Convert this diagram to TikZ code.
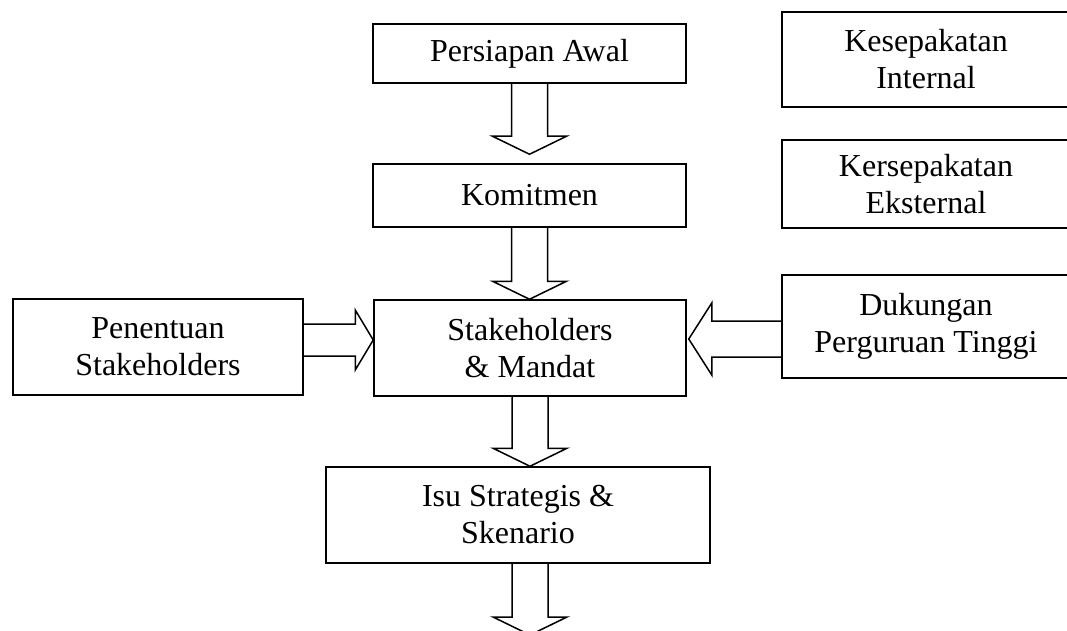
\documentclass[tikz,border=0pt]{standalone}
\usepackage{fontspec}
\setmainfont{Liberation Serif}
\usetikzlibrary{calc}
\tikzset{
  box/.style={draw, line width=1.5pt, rectangle, inner sep=0pt, align=center,
    font=\fontsize{32}{37}\selectfont},
  blk/.style={draw, line width=1.5pt, line join=miter}
}
\begin{document}
\begin{tikzpicture}[x=1pt,y=-1pt]
\useasboundingbox (0,0) rectangle (1067,631);
\clip (0,0) rectangle (1067,631);
% nodes
\node[box, minimum width=313pt, minimum height=59pt] (pa) at (529.5,53.5) {Persiapan Awal};
\node[box, minimum width=313pt, minimum height=63pt] (km) at (529.5,195.5) {Komitmen};
\node[box, minimum width=312pt, minimum height=96pt] (sm) at (530,348) {Stakeholders\\\& Mandat};
\node[box, minimum width=384pt, minimum height=96pt] (isu) at (518,515) {Isu Strategis \&\\Skenario};
\node[box, minimum width=290pt, minimum height=96pt] (pen) at (158,347) {Penentuan\\Stakeholders};
\node[box, minimum width=288pt, minimum height=103pt] (duk) at (926,326.5) {Dukungan\\Perguruan Tinggi};
\node[box, minimum width=288pt, minimum height=95pt] (kes) at (926,59.5) {Kesepakatan\\Internal};
\node[box, minimum width=288pt, minimum height=88pt] (ker) at (926,184) {Kersepakatan\\Eksternal};
% tips
\coordinate (t1) at ($(pa.south |- km.north)+(0,-9)$);
\coordinate (t2) at (km.south |- sm.north);
\coordinate (t3) at (sm.south |- isu.north);
\coordinate (t4) at (530,635);
\coordinate (ltip) at ($(sm.west)+(0,-8)$);
\coordinate (rtip) at ($(sm.east)+(2,-9)$);
% down arrows
\draw[blk] ($(pa.south)+(-18,0)$) -- ($(t1)+(-18,-18)$) -- ($(t1)+(-37,-18)$) -- (t1)
  -- ($(t1)+(37,-18)$) -- ($(t1)+(18,-18)$) -- ($(pa.south)+(18,0)$);
\draw[blk] ($(km.south)+(-18,0)$) -- ($(t2)+(-18,-18)$) -- ($(t2)+(-37,-18)$) -- (t2)
  -- ($(t2)+(37,-18)$) -- ($(t2)+(18,-18)$) -- ($(km.south)+(18,0)$);
\draw[blk] ($(sm.south)+(-18,0)$) -- ($(t3)+(-18,-18)$) -- ($(t3)+(-37,-18)$) -- (t3)
  -- ($(t3)+(37,-18)$) -- ($(t3)+(18,-18)$) -- ($(sm.south)+(18,0)$);
\draw[blk] ($(isu.south -| t4)+(-18,0)$) -- ($(t4)+(-18,-18)$) -- ($(t4)+(-37,-18)$) -- (t4)
  -- ($(t4)+(37,-18)$) -- ($(t4)+(18,-18)$) -- ($(isu.south -| t4)+(18,0)$);
% left arrow
\draw[blk] ($(pen.east |- ltip)+(0,-16)$) -- ($(ltip)+(-18,-16)$) -- ($(ltip)+(-18,-30)$) -- (ltip)
  -- ($(ltip)+(-18,30)$) -- ($(ltip)+(-18,16)$) -- ($(pen.east |- ltip)+(0,16)$);
% right arrow
\draw[blk] ($(duk.west |- rtip)+(0,-18)$) -- ($(rtip)+(23,-18)$) -- ($(rtip)+(23,-36)$) -- (rtip)
  -- ($(rtip)+(23,36)$) -- ($(rtip)+(23,18)$) -- ($(duk.west |- rtip)+(0,18)$);
\end{tikzpicture}
\end{document}
